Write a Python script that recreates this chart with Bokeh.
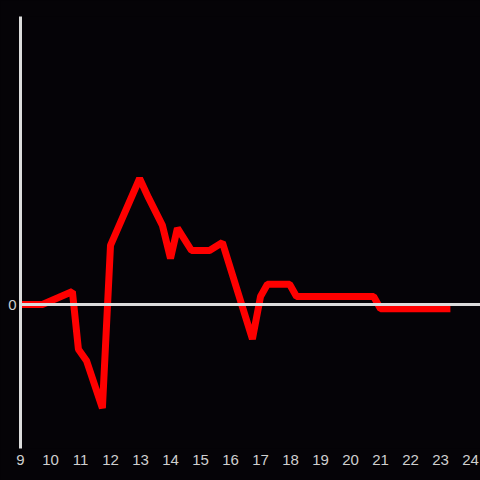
from bokeh.plotting import figure
from bokeh.models import Span, FixedTicker, Range1d
from bokeh.embed import file_html
from bokeh.resources import INLINE

# data (hour of day, value)
hours = [9.0, 9.73, 10.73, 10.93, 11.2, 11.73, 12.0, 12.97, 13.27, 13.73, 14.0, 14.23,
         14.7, 15.3, 15.73, 16.73, 17.0, 17.23, 17.97, 18.2, 20.77, 21.0, 23.33]
values = [0.0, 0.0, 0.09, -0.31, -0.39, -0.72, 0.41, 0.875, 0.74, 0.55, 0.32, 0.53,
          0.375, 0.375, 0.43, -0.24, 0.055, 0.14, 0.14, 0.055, 0.055, -0.03, -0.03]
x_ticks = list(range(9, 25))
y_ticks = [0]

BG = "#050307"
AXIS = "#dcdcdc"
LABEL = "#cfcfcf"

p = figure(width=480, height=480, output_backend="svg", toolbar_location=None,
           x_range=Range1d(9, 24.333), y_range=Range1d(-1, 2),
           background_fill_color=BG, border_fill_color=BG,
           min_border_left=20, min_border_right=0, min_border_top=16, min_border_bottom=32)
p.outline_line_color = None
p.grid.visible = False

p.add_layout(Span(location=0, dimension="width", line_color=AXIS, line_width=3))

p.line(hours, values, line_color="#ff0000", line_width=7)

p.xaxis.ticker = FixedTicker(ticks=x_ticks)
p.yaxis.ticker = FixedTicker(ticks=y_ticks)
p.xaxis.axis_line_color = None
p.xaxis.major_tick_line_color = None
p.xaxis.minor_tick_line_color = None
p.xaxis.major_tick_out = 0
p.xaxis.major_tick_in = 0
p.xaxis.major_label_standoff = 6
p.yaxis.axis_line_color = AXIS
p.yaxis.axis_line_width = 3
p.yaxis.major_tick_line_color = None
p.yaxis.minor_tick_line_color = None
p.yaxis.major_tick_out = 0
p.yaxis.major_tick_in = 0
p.yaxis.major_label_standoff = 4
for ax in (p.xaxis, p.yaxis):
    ax.major_label_text_color = LABEL
    ax.major_label_text_font = "Liberation Sans"
    ax.major_label_text_font_size = "15px"

html = file_html(p, INLINE)
html = html.replace("</head>",
                    "<style>html,body{margin:0;padding:0;background:#050307;overflow:hidden}</style></head>", 1)
open("out.html", "w").write(html)
